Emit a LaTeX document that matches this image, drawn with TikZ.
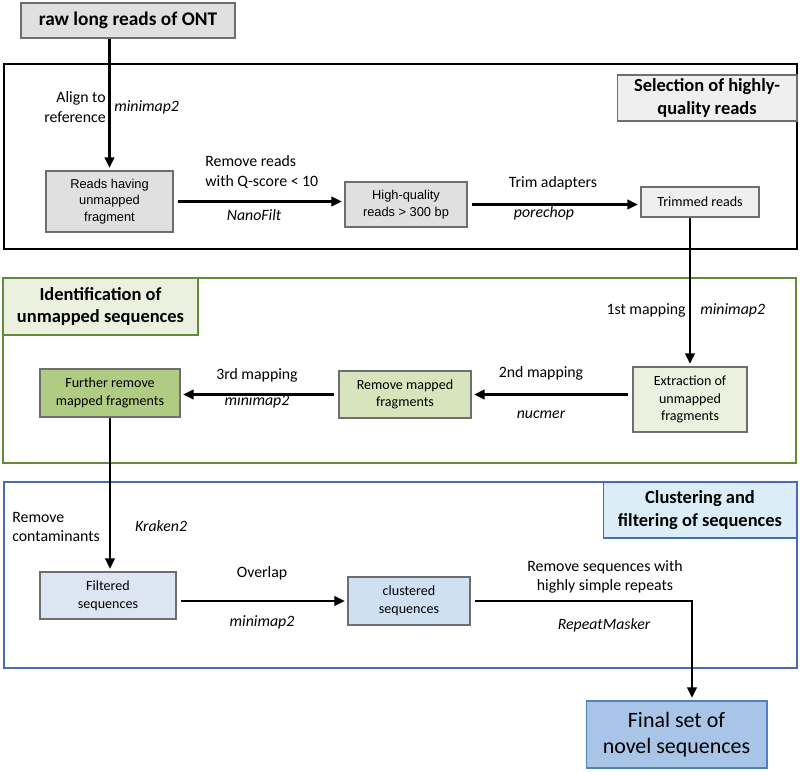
\documentclass[tikz,border=0pt]{standalone}
\usepackage{fontspec}
\setmainfont{Carlito}
\newfontfamily\arialfont{Liberation Sans}
\usetikzlibrary{arrows.meta}
\definecolor{boxgray}{RGB}{224,224,224}
\definecolor{titlegray}{RGB}{239,239,239}
\definecolor{linegray}{RGB}{110,110,110}
\definecolor{framegreen}{RGB}{96,140,58}
\definecolor{palegreen}{RGB}{235,241,222}
\definecolor{midgreen}{RGB}{216,228,188}
\definecolor{deepgreen}{RGB}{176,204,130}
\definecolor{frameblue}{RGB}{72,108,180}
\definecolor{titleblue}{RGB}{219,238,248}
\definecolor{paleblue}{RGB}{220,230,242}
\definecolor{midblue}{RGB}{207,224,243}
\definecolor{deepblue}{RGB}{168,196,230}
\definecolor{finalline}{RGB}{79,129,189}

\begin{document}
\begin{tikzpicture}[x=0.02cm,y=-0.02cm,>={Triangle[length=6pt,width=5.5pt]}]
    \tikzstyle{box}=[rectangle,draw=linegray,line width=0.6pt,inner sep=1pt,align=center,font=\fontsize{8}{10}\selectfont]
    \tikzstyle{sect}=[box,font=\fontsize{10.5}{13}\selectfont\bfseries]
    \tikzstyle{lbl}=[inner sep=0pt,font=\fontsize{9}{11}\selectfont]
    \tikzstyle{tool}=[lbl,font=\fontsize{9}{11}\selectfont\itshape]
    \tikzstyle{flow}=[draw,line width=1.2pt,->,shorten <=2.5pt,shorten >=1.5pt]
    \useasboundingbox (0,0) rectangle (800,771);

    % section frames
    \draw [line width=1.3pt] (4,64) rectangle (797,249);
    \draw [framegreen,line width=1.3pt] (3,278) rectangle (796,463);
    \draw [frameblue,line width=1.3pt] (4,482) rectangle (797,668);

    % section titles
    \node (seltitle) at (707,98) [sect,fill=titlegray,minimum width=3.6cm,minimum height=0.92cm] {Selection of highly-\\quality reads};
    \node (idtitle) at (100.5,306.5) [sect,draw=framegreen,fill=palegreen,minimum width=3.9cm,minimum height=1.14cm] {Identification of\\unmapped sequences};
    \node (clustitle) at (700,510) [sect,draw=frameblue,fill=titleblue,minimum width=3.88cm,minimum height=1.12cm] {Clustering and\\filtering of sequences};

    % steps
    \node (raw) at (128,20.5) [box,fill=boxgray,minimum width=4.28cm,minimum height=0.7cm,font=\fontsize{11}{13}\selectfont\bfseries] {raw long reads of ONT};
    \node (reads) at (109.5,201.5) [box,fill=boxgray,minimum width=2.54cm,minimum height=1.22cm,font=\arialfont\fontsize{7.3}{9.5}\selectfont] {Reads having\\unmapped\\fragment};
    \node (hq) at (406,204.5) [box,fill=boxgray,minimum width=2.44cm,minimum height=0.9cm,font=\arialfont\fontsize{7.3}{9.5}\selectfont] {High-quality\\reads > 300 bp};
    \node (trim) at (700,202) [box,fill=titlegray,minimum width=2.36cm,minimum height=0.6cm] {Trimmed reads};
    \node (extr) at (690,399.5) [box,fill=palegreen,minimum width=2.28cm,minimum height=1.3cm] {Extraction of\\unmapped\\fragments};
    \node (rmap) at (405,394.5) [box,fill=midgreen,minimum width=2.64cm,minimum height=0.94cm] {Remove mapped\\fragments};
    \node (further) at (110,393) [box,fill=deepgreen,minimum width=2.8cm,minimum height=0.96cm] {Further remove\\mapped fragments};
    \node (filt) at (108,595.5) [box,fill=paleblue,minimum width=2.72cm,minimum height=0.94cm] {Filtered\\sequences};
    \node (clus) at (409,601) [box,fill=midblue,minimum width=2.44cm,minimum height=0.96cm] {clustered\\sequences};
    \node (final) at (676.5,734.5) [box,draw=finalline,fill=deepblue,minimum width=3.62cm,minimum height=1.34cm,font=\fontsize{12.5}{15}\selectfont] {Final set of\\novel sequences};

    % connectors
    \draw [flow,shorten <=0pt] (reads.north |- raw.south) -- (reads.north);
    \draw [flow] (reads.east) -- (reads -| hq.west);
    \draw [flow] (hq.east) -- (hq -| trim.west);
    \draw [flow,shorten <=0pt] (extr.north |- trim.south) -- (extr.north);
    \draw [flow] (extr.west |- rmap) -- (rmap.east);
    \draw [flow] (rmap.west) -- (rmap -| further.east);
    \draw [flow,shorten <=0pt] (further.south) -- (further.south |- filt.north);
    \draw [flow] (filt.east |- clus) -- (clus.west);
    \draw [flow] (clus.east) -| ([xshift=0.31cm]final.north);

    % labels
    \node (alignlbl) at (106,107) [lbl,anchor=east,align=right] {Align to\\reference};
    \node (tool1) at (114,107) [tool,anchor=west] {minimap2};
    \node (qlbl) at (205,172) [lbl,anchor=west,align=left] {Remove reads\\with Q-score < 10};
    \node (tool2) at (254,215) [tool] {NanoFilt};
    \node (trimlbl) at (553,183) [lbl] {Trim adapters};
    \node (tool3) at (544,213) [tool] {porechop};
    \node (map1lbl) at (686,310) [lbl,anchor=east] {1st mapping};
    \node (tool4) at (700,310) [tool,anchor=west] {minimap2};
    \node (map2lbl) at (541,373) [lbl] {2nd mapping};
    \node (tool5) at (541,415) [tool] {nucmer};
    \node (map3lbl) at (257,375) [lbl] {3rd mapping};
    \node (tool6) at (257,401) [tool] {minimap2};
    \node (contlbl) at (12,527) [lbl,anchor=west,align=left] {Remove\\contaminants};
    \node (tool7) at (161,526) [tool] {Kraken2};
    \node (ovlbl) at (262,573) [lbl] {Overlap};
    \node (tool8) at (262,622) [tool] {minimap2};
    \node (replbl) at (605,577) [lbl,align=center] {Remove sequences with\\highly simple repeats};
    \node (tool9) at (604,625) [tool] {RepeatMasker};
  \end{tikzpicture}
\end{document}
